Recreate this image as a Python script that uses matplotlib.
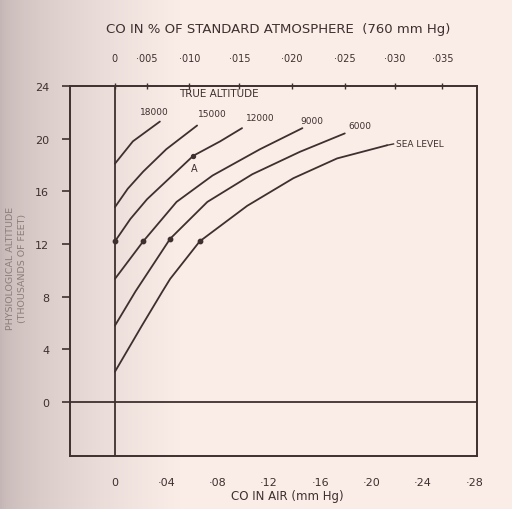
import numpy as np
import matplotlib
matplotlib.use("Agg")
import matplotlib.pyplot as plt

# curves: CO in air (mm Hg) vs physiological altitude (1000 ft)
co_18000 = [0.000, 0.014, 0.035]
alt_18000 = [18.1, 19.8, 21.3]
co_15000 = [0.000, 0.010, 0.022, 0.040, 0.064]
alt_15000 = [14.8, 16.2, 17.5, 19.2, 21.0]
co_12000 = [0.000, 0.012, 0.025, 0.061, 0.082, 0.099]
alt_12000 = [12.2, 13.9, 15.4, 18.7, 19.8, 20.8]
co_9000 = [0.000, 0.022, 0.048, 0.076, 0.113, 0.146]
alt_9000 = [9.35, 12.2, 15.2, 17.2, 19.2, 20.8]
co_6000 = [0.000, 0.016, 0.043, 0.072, 0.107, 0.144, 0.179]
alt_6000 = [5.8, 8.4, 12.4, 15.2, 17.3, 19.0, 20.4]
co_sea = [0.000, 0.021, 0.037, 0.043, 0.066, 0.103, 0.139, 0.173, 0.212]
alt_sea = [2.3, 5.8, 8.4, 9.35, 12.2, 14.9, 17.0, 18.5, 19.5]

curve_names = ["18000", "15000", "12000", "9000", "6000", "SEA LEVEL"]

# points marked at 12,000 ft physiological altitude, and point A
mark_co = [0.000, 0.022, 0.043, 0.066]
mark_alt = [12.2, 12.2, 12.4, 12.2]
point_a = (0.061, 18.7)

bottom_ticks = [0, 0.04, 0.08, 0.12, 0.16, 0.20, 0.24, 0.28]
bottom_labels = ["0", "·04", "·08", "·12", "·16", "·20", "·24", "·28"]
top_tick_pos = [0, 0.025, 0.058, 0.097, 0.138, 0.179, 0.218, 0.255]
top_labels = ["0", "·005", "·010", "·015", "·020", "·025", "·030", "·035"]
y_ticks = [0, 4, 8, 12, 16, 20, 24]

ink = "#3d302e"

fig = plt.figure(figsize=(5.12, 5.10), dpi=100)

# paper background, darker at the left edge
bg = fig.add_axes([0, 0, 1, 1], zorder=-10)
xs = np.linspace(0, 1, 256)
shade = np.clip(xs / 0.35, 0, 1) ** 0.6
left_c = np.array([196, 182, 180]) / 255
right_c = np.array([250, 236, 231]) / 255
grad = left_c[None, :] * (1 - shade[:, None]) + right_c[None, :] * shade[:, None]
bg.imshow(grad[None, :, :], aspect="auto", extent=[0, 1, 0, 1])
bg.axis("off")

ax = fig.add_axes([0.1367, 0.1039, 0.795, 0.7255])
ax.set_facecolor("none")
ax.set_xlim(-0.035, 0.282)
ax.set_ylim(-4.1, 24)

curves = [(co_18000, alt_18000), (co_15000, alt_15000), (co_12000, alt_12000),
          (co_9000, alt_9000), (co_6000, alt_6000), (co_sea, alt_sea)]
for x, y in curves:
    ax.plot(x, y, color=ink, lw=1.3, solid_capstyle="round")

ax.scatter(mark_co, mark_alt, s=10, color=ink, zorder=3)
ax.scatter([point_a[0]], [point_a[1]], s=8, color=ink, zorder=3)
ax.text(point_a[0] + 0.001, point_a[1] - 0.9, "A", fontsize=7, color=ink,
        ha="center", va="center")

# curve labels
label_pos = [(0.031, 22.1), (0.076, 21.9), (0.113, 21.6), (0.153, 21.4),
             (0.191, 21.0)]
for name, (lx, ly) in zip(curve_names[:5], label_pos):
    ax.text(lx, ly, name, fontsize=6.5, color=ink, ha="center", va="center")
ax.plot([co_sea[-1], 0.217], [alt_sea[-1], 19.6], color=ink, lw=1.0)
ax.text(0.219, 19.6, "SEA LEVEL", fontsize=6.5, color=ink, ha="left", va="center")
ax.text(0.081, 23.5, "TRUE ALTITUDE", fontsize=7.5, color=ink, ha="center",
        va="center")

# inner axes at zero
ax.axvline(0, color=ink, lw=1.3)
ax.axhline(0, color=ink, lw=1.3)

for s in ax.spines.values():
    s.set_color(ink)
    s.set_linewidth(1.4)

ax.set_yticks(y_ticks)
ax.set_yticklabels([str(v) for v in y_ticks])
ax.tick_params(axis="y", direction="out", length=6, width=1.2, color=ink,
               labelsize=8, labelcolor=ink, pad=9)
ax.set_xticks(bottom_ticks)
ax.set_xticklabels(bottom_labels)
ax.tick_params(axis="x", length=0, labelsize=8, labelcolor=ink, pad=15)
ax.set_xlabel("CO IN AIR (mm Hg)", fontsize=8.5, color=ink)
ax.xaxis.set_label_coords(0.535, -0.088)

ax.set_ylabel("PHYSIOLOGICAL ALTITUDE\n(THOUSANDS OF FEET)", fontsize=6.8,
              color="#8a7d7b", linespacing=1.5)
ax.yaxis.set_label_coords(-0.105, 0.51)

top = ax.twiny()
top.set_xlim(ax.get_xlim())
top.set_xticks(top_tick_pos)
top.set_xticklabels(top_labels)
top.tick_params(axis="x", direction="inout", length=5, width=1.0, color=ink,
                labelsize=7, labelcolor=ink, pad=14)
for s in top.spines.values():
    s.set_visible(False)

fig.text(278 / 512, 1 - 30 / 510, "CO IN % OF STANDARD ATMOSPHERE  (760 mm Hg)",
         fontsize=9.5, color=ink, ha="center", va="center")

fig.savefig("out.png", dpi=100)
